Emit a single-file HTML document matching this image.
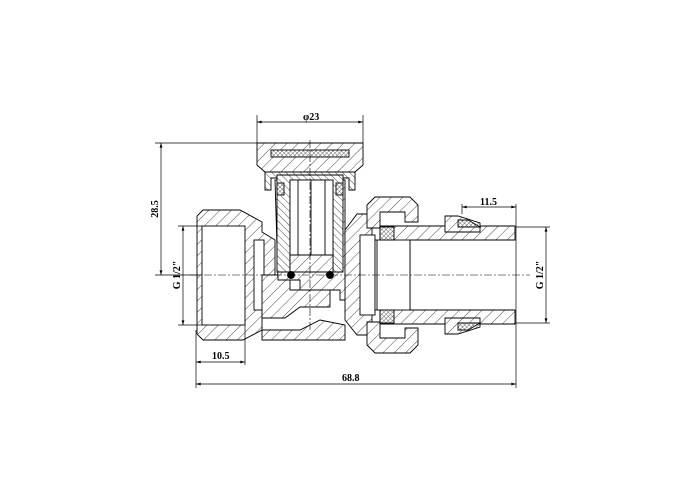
<!DOCTYPE html>
<html><head><style>
html,body{margin:0;padding:0;background:#fff;width:700px;height:500px;overflow:hidden}
svg{display:block}
text{font-family:"Liberation Serif",serif;font-weight:bold;font-size:10px;fill:#000}
</style></head><body>
<svg width="700" height="500" viewBox="0 0 700 500" xmlns="http://www.w3.org/2000/svg">
<defs>
<pattern id="h" patternUnits="userSpaceOnUse" width="8" height="8" patternTransform="rotate(45)">
<rect width="8" height="8" fill="#fff"/><line x1="0" y1="0" x2="0" y2="8" stroke="#000" stroke-width="0.7"/></pattern>
<pattern id="h2" patternUnits="userSpaceOnUse" width="5" height="5" patternTransform="rotate(-45)">
<rect width="5" height="5" fill="#fff"/><line x1="0" y1="0" x2="0" y2="5" stroke="#000" stroke-width="0.7"/></pattern>
<pattern id="x" patternUnits="userSpaceOnUse" width="3" height="3" patternTransform="rotate(45)">
<rect width="3" height="3" fill="#fff"/><path d="M0 0V3M0 0H3" stroke="#000" stroke-width="0.6"/></pattern>
<marker id="a" viewBox="0 0 10 6" refX="10" refY="3" markerWidth="8" markerHeight="4" orient="auto-start-reverse"><path d="M0 0L10 3L0 6Z"/></marker>
</defs>
<g stroke="#000" stroke-width="0.9" fill="none">
<path d="M203 210H240L262 222V232L275 240V275H262V330L243 340H203L197 334V216Z" fill="url(#h)"/>
<rect x="202" y="226" width="43" height="99" fill="#fff"/>
<rect x="254" y="240" width="10" height="70" fill="#fff"/>
<path d="M262 275H290V290H330V307H300L285 318H262Z" fill="url(#h)"/>
<path d="M275 180H345V270L355 278V300H340V290H300V280H278Z" fill="url(#h)"/>
<path d="M262 330H300L320 320L345 325V340H262Z" fill="url(#h)"/>
<path d="M257 143H363V165L355 172H265L257 165Z" fill="url(#h)"/>
<rect x="271" y="150" width="78" height="7" fill="url(#x)"/>
<path d="M265 172H355V190H349V178H271V190H265Z" fill="url(#h2)"/>
<path d="M277 175H343V272H333V180H290V272H277Z" fill="url(#h2)"/>
<rect x="290" y="180" width="43" height="75" fill="#fff"/>
<path d="M290 255H333V272H290Z" fill="url(#h)"/>
<line x1="298" y1="180" x2="298" y2="255"/><line x1="311" y1="180" x2="311" y2="255"/><line x1="325" y1="180" x2="325" y2="255"/>
<rect x="277" y="183" width="7" height="12" fill="url(#x)"/><rect x="336" y="183" width="7" height="12" fill="url(#x)"/>
<path d="M345 230L357 214H372V335H357L345 320Z" fill="url(#h)"/>
<rect x="360" y="235" width="15" height="80" fill="#fff"/>
<path d="M367 205L375 197H410L418 205V222H405V212H380V228H367Z" fill="url(#h)"/>
<path d="M367 345L375 353H410L418 345V328H405V338H380V322H367Z" fill="url(#h)"/>
<path d="M380 226H515V240H410V310H515V324H380Z" fill="url(#h)"/>
<rect x="375" y="240" width="35" height="70" fill="#fff"/>
<line x1="377" y1="240" x2="377" y2="310"/>
<rect x="380" y="227" width="14" height="13" fill="url(#x)"/><rect x="380" y="310" width="14" height="13" fill="url(#x)"/>
<path d="M445 216H458L480 223V232H445Z" fill="url(#h)"/>
<path d="M458 220H468L480 227H458Z" fill="url(#x)"/>
<path d="M445 318H480V327L458 334H445Z" fill="url(#h)"/>
<path d="M458 323H480L468 330H458Z" fill="url(#x)"/>
<circle cx="291" cy="275" r="3.5" fill="#000"/><circle cx="330" cy="275" r="3.5" fill="#000"/>
</g>
<g stroke="#000" stroke-width="0.6" stroke-dasharray="8 2 2 2">
<line x1="190" y1="275" x2="530" y2="275"/>
<line x1="310" y1="140" x2="310" y2="330"/>
</g>
<g stroke="#000" stroke-width="0.7" fill="none">
<line x1="257" y1="115" x2="257" y2="143"/><line x1="363" y1="115" x2="363" y2="143"/>
<line x1="257" y1="122" x2="363" y2="122" marker-start="url(#a)" marker-end="url(#a)"/>
<line x1="155" y1="143" x2="257" y2="143"/><line x1="155" y1="275" x2="200" y2="275"/>
<line x1="161" y1="143" x2="161" y2="275" marker-start="url(#a)" marker-end="url(#a)"/>
<line x1="178" y1="226" x2="202" y2="226"/><line x1="178" y1="325" x2="202" y2="325"/>
<line x1="183" y1="226" x2="183" y2="325" marker-start="url(#a)" marker-end="url(#a)"/>
<line x1="196" y1="330" x2="196" y2="388"/><line x1="245" y1="325" x2="245" y2="365"/>
<line x1="196" y1="362" x2="245" y2="362" marker-start="url(#a)" marker-end="url(#a)"/>
<line x1="196" y1="384" x2="516" y2="384" marker-start="url(#a)" marker-end="url(#a)"/>
<line x1="516" y1="204" x2="516" y2="388"/><line x1="462" y1="204" x2="462" y2="214"/>
<line x1="462" y1="207" x2="516" y2="207" marker-start="url(#a)" marker-end="url(#a)"/>
<line x1="516" y1="227" x2="550" y2="227"/><line x1="516" y1="323" x2="550" y2="323"/>
<line x1="546" y1="227" x2="546" y2="323" marker-start="url(#a)" marker-end="url(#a)"/>
</g>
<text x="303" y="120">φ23</text>
<text x="480" y="205">11.5</text>
<text x="212" y="359">10.5</text>
<text x="342" y="381">68.8</text>
<text transform="translate(158,209) rotate(-90)" text-anchor="middle">28.5</text>
<text transform="translate(180,275) rotate(-90)" text-anchor="middle">G 1/2"</text>
<text transform="translate(543,275) rotate(-90)" text-anchor="middle">G 1/2"</text>
</svg>
</body></html>
